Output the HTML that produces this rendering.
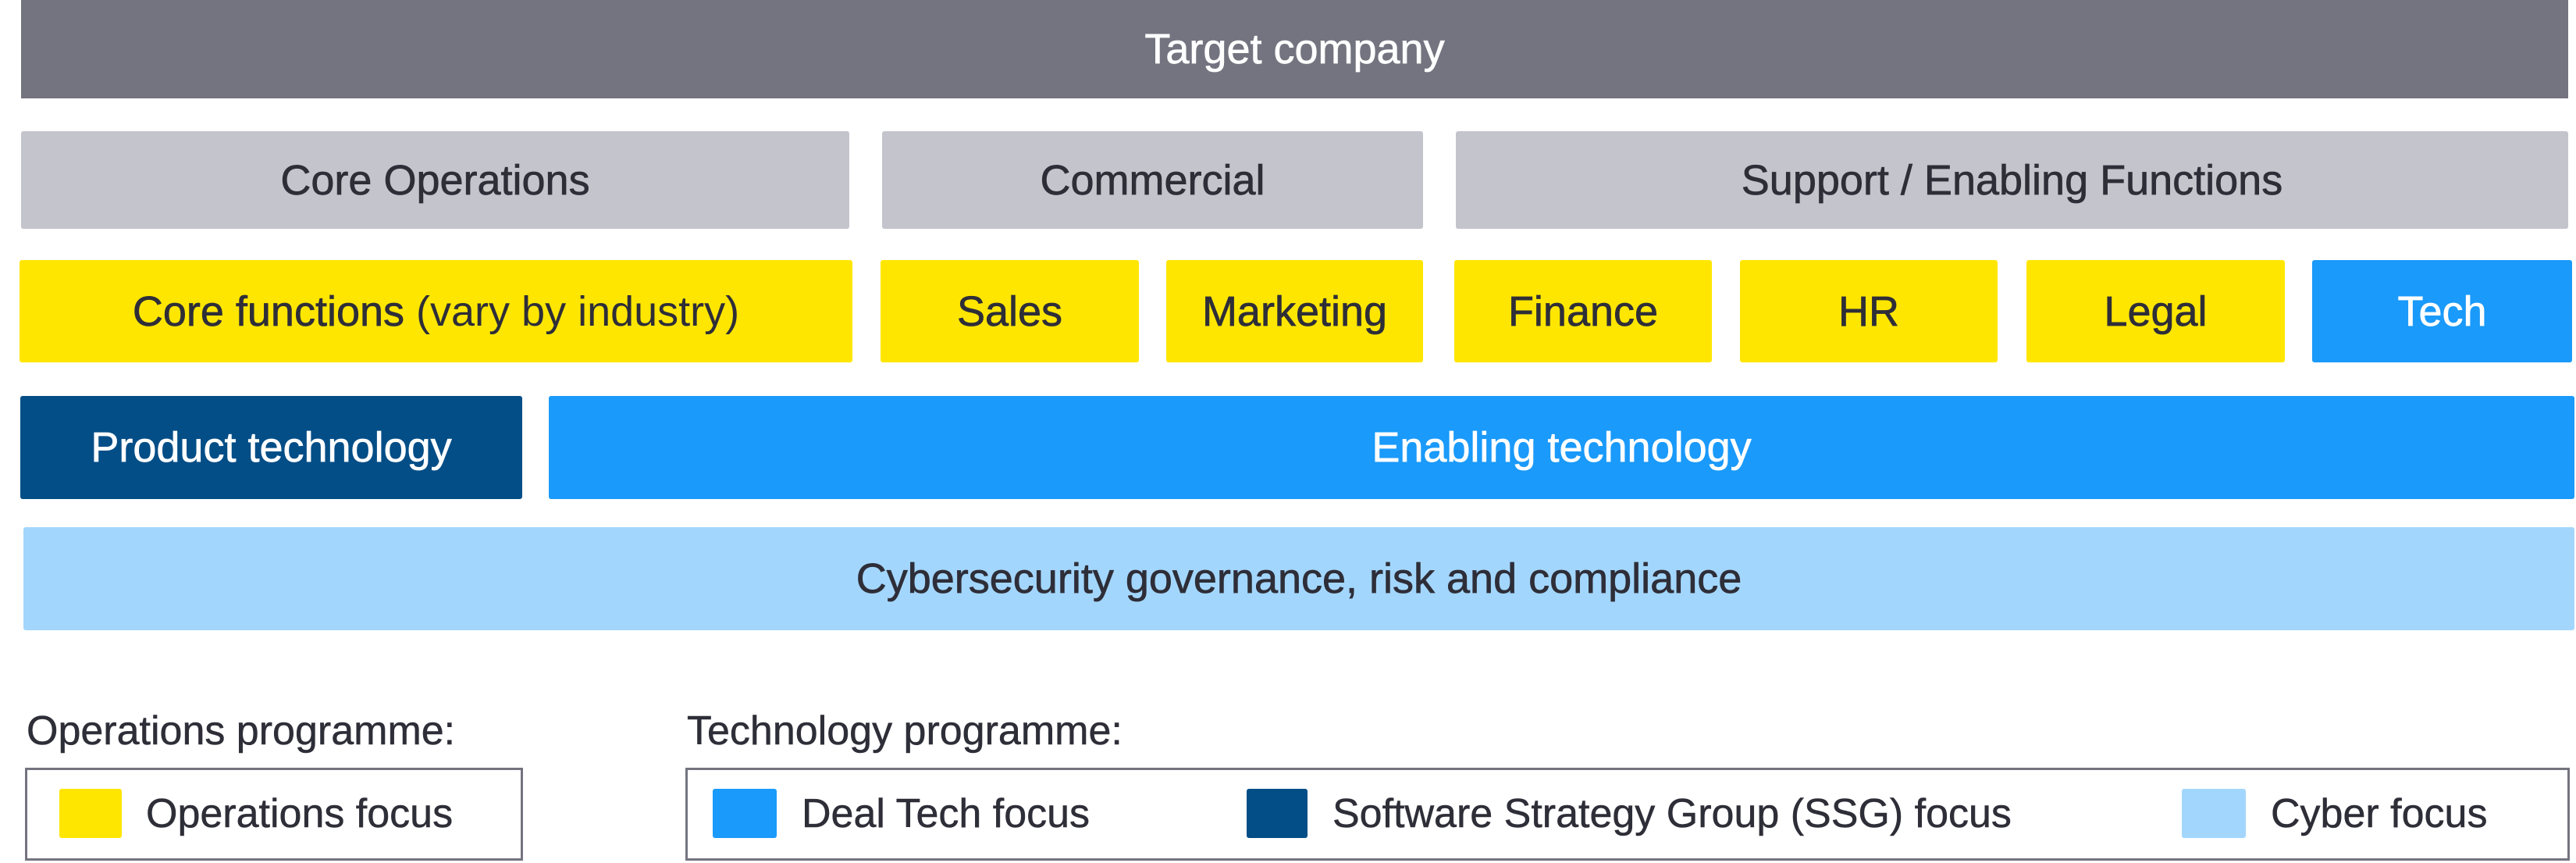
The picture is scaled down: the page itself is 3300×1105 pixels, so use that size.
<!DOCTYPE html>
<html><head><meta charset="utf-8"><style>
html,body{margin:0;padding:0;background:#fff;}
body{width:3300px;height:1105px;position:relative;overflow:hidden;font-family:"Liberation Sans",sans-serif;color:#2e2e38;}
.b{position:absolute;display:flex;align-items:center;justify-content:center;font-size:54px;border-radius:3px;box-sizing:border-box;white-space:nowrap;-webkit-text-stroke:0.7px currentColor;}
.g{background:#747480;color:#fff;}
.lg{background:#c4c4cd;}
.y{background:#ffe600;}
.bl{background:#1a9afa;color:#fff;}
.nv{background:#034e87;color:#fff;}
.lb{background:#a3d6fc;}
.t{position:absolute;font-size:52px;white-space:nowrap;line-height:1;-webkit-text-stroke:0.5px currentColor;}
.box{position:absolute;border:3px solid #747480;box-sizing:border-box;}
.sw{position:absolute;border-radius:3px;}
</style></head><body>
<div class="b g" style="left:27px;top:0;width:3263px;height:126px;border-radius:0">Target company</div>

<div class="b lg" style="left:27px;top:168px;width:1061px;height:125px">Core Operations</div>
<div class="b lg" style="left:1130px;top:168px;width:693px;height:125px">Commercial</div>
<div class="b lg" style="left:1865px;top:168px;width:1425px;height:125px">Support / Enabling Functions</div>

<div class="b y" style="left:25px;top:333px;width:1067px;height:131px">Core functions&nbsp;<span style="-webkit-text-stroke:0">(vary by industry)</span></div>
<div class="b y" style="left:1128px;top:333px;width:331px;height:131px">Sales</div>
<div class="b y" style="left:1494px;top:333px;width:329px;height:131px">Marketing</div>
<div class="b y" style="left:1863px;top:333px;width:330px;height:131px">Finance</div>
<div class="b y" style="left:2229px;top:333px;width:330px;height:131px">HR</div>
<div class="b y" style="left:2596px;top:333px;width:331px;height:131px">Legal</div>
<div class="b bl" style="left:2962px;top:333px;width:333px;height:131px">Tech</div>

<div class="b nv" style="left:26px;top:507px;width:643px;height:132px">Product technology</div>
<div class="b bl" style="left:703px;top:507px;width:2595px;height:132px">Enabling technology</div>

<div class="b lb" style="left:30px;top:675px;width:3268px;height:132px">Cybersecurity governance, risk and compliance</div>

<div class="t" style="left:34px;top:910px">Operations programme:</div>
<div class="t" style="left:880px;top:910px">Technology programme:</div>

<div class="box" style="left:32px;top:983px;width:638px;height:119px"></div>
<div class="box" style="left:878px;top:983px;width:2414px;height:119px"></div>

<div class="sw" style="left:76px;top:1010px;width:80px;height:63px;background:#ffe600"></div>
<div class="t" style="left:187px;top:1016px">Operations focus</div>
<div class="sw" style="left:913px;top:1010px;width:82px;height:63px;background:#1a9afa"></div>
<div class="t" style="left:1027px;top:1016px">Deal Tech focus</div>
<div class="sw" style="left:1597px;top:1010px;width:78px;height:63px;background:#034e87"></div>
<div class="t" style="left:1707px;top:1016px">Software Strategy Group (SSG) focus</div>
<div class="sw" style="left:2795px;top:1010px;width:82px;height:63px;background:#a3d6fc"></div>
<div class="t" style="left:2909px;top:1016px">Cyber focus</div>
</body></html>
